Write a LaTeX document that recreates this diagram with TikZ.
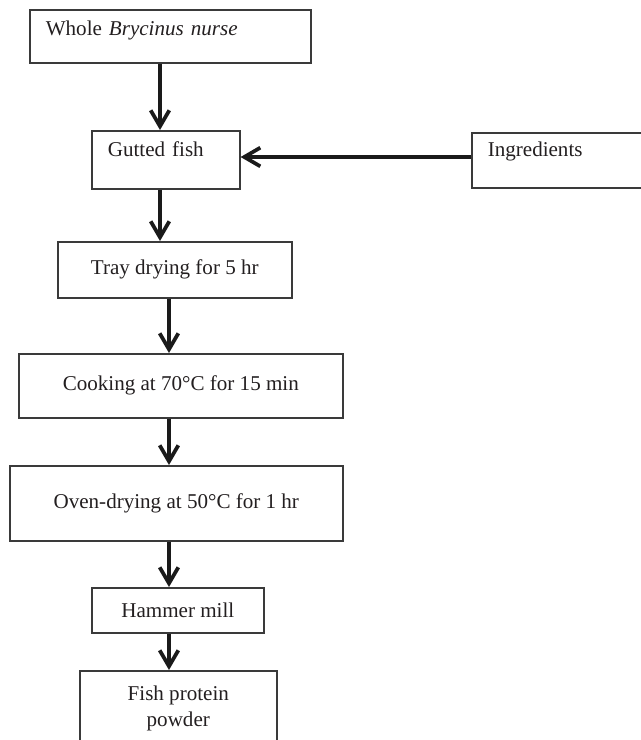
\documentclass[tikz,border=0pt]{standalone}
\usepackage{fontspec}
\setmainfont{Liberation Serif}
\usepackage{tikz}
\usetikzlibrary{arrows.meta,positioning}
\definecolor{boxGray}{RGB}{58,58,58}
\definecolor{flowBlack}{RGB}{26,26,26}
\definecolor{txtBlack}{RGB}{35,31,32}

\begin{document}
\begin{tikzpicture}[x=0.75pt,y=-0.75pt,
  every node/.style={font=\fontsize{15.8}{19.5}\selectfont, text=txtBlack},
  stepbox/.style={draw=boxGray, line width=1.2pt, anchor=north west, inner sep=0pt, align=center},
  topbox/.style={stepbox, align=left, inner xsep=12pt, text height=19.5pt},
  flow/.style={flowBlack, line width=2.8pt, -{Straight Barb[length=12pt,width=14pt]}}]
\useasboundingbox (0,0) rectangle (640,740);

% boxes, placed by their top left corner
\node[topbox, text width=186.75pt, text depth=20.25pt] (whole) at (29,9) {Whole \textit{Brycinus nurse}};
\node[topbox, text width=87pt, text depth=24pt] (gutted) at (91,130) {Gutted fish};
\node[topbox, text width=104.25pt, text height=18pt, text depth=23.25pt] (ingr) at (471,132) {Ingredients};
\node[stepbox, minimum width=175.5pt, minimum height=42pt] (tray) at (57,241) {Tray drying for 5 hr};
\node[stepbox, minimum width=243pt, minimum height=48pt] (cook) at (18,353) {Cooking at 70°C for 15 min};
\node[stepbox, minimum width=249.75pt, minimum height=56.25pt] (oven) at (9,465) {Oven-drying at 50°C for 1 hr};
\node[stepbox, minimum width=129pt, minimum height=33.75pt] (hammer) at (91,587) {Hammer mill};
\node[stepbox, minimum width=147.75pt, minimum height=57pt] (fish) at (79,670) {Fish protein\\powder};

% arrows
\coordinate (spineA) at (160,0);
\coordinate (spineB) at (169,0);
\coordinate (feed) at (0,157);
\draw[flow] (whole.south -| spineA) -- (gutted.north -| spineA);
\draw[flow] (gutted.south -| spineA) -- (tray.north -| spineA);
\draw[flow] (tray.south -| spineB) -- (cook.north -| spineB);
\draw[flow] (cook.south -| spineB) -- (oven.north -| spineB);
\draw[flow] (oven.south -| spineB) -- (hammer.north -| spineB);
\draw[flow] (hammer.south -| spineB) -- (fish.north -| spineB);
\draw[flow] (ingr.west |- feed) -- (gutted.east |- feed);
\end{tikzpicture}
\end{document}
